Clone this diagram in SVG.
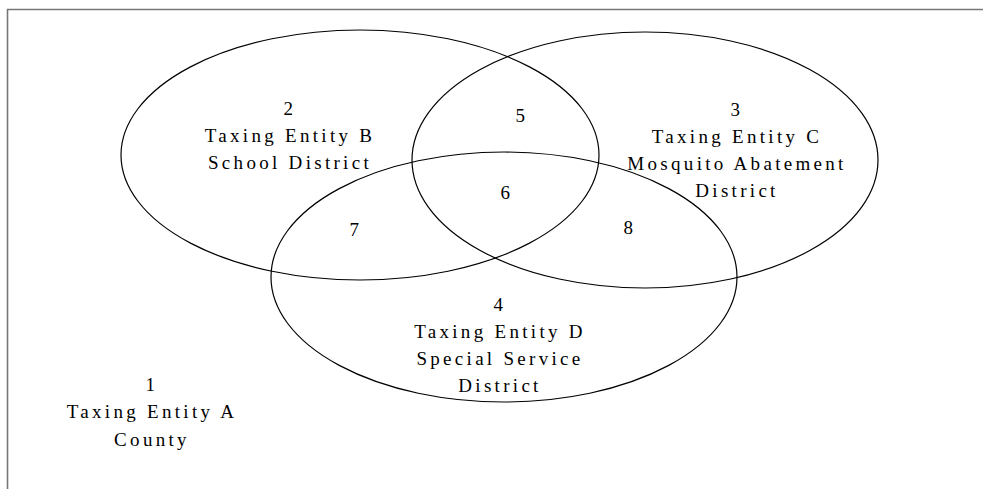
<svg xmlns="http://www.w3.org/2000/svg" width="983" height="489" viewBox="0 0 983 489">
<style>
.e{fill:none;stroke:#000;stroke-width:1.2}
.t{font-family:"Liberation Serif","Times New Roman",serif;font-size:19px;fill:#000;text-anchor:middle;letter-spacing:3.3px}
.f{fill:none;stroke:#777;stroke-width:1.6}
</style>
<rect width="983" height="489" fill="#fff"/>
<g id="frame"><path class="f" d="M983 9.5H7.5V489"/></g>
<g id="ellipseB"><ellipse class="e" cx="360" cy="155" rx="239" ry="125"/></g>
<g id="ellipseC"><ellipse class="e" cx="645" cy="160" rx="233" ry="128"/></g>
<g id="ellipseD"><ellipse class="e" cx="504" cy="277" rx="233" ry="125"/></g>
<g id="region1"><text class="t" x="152" y="391">1</text><text class="t" x="152" y="418">Taxing Entity A</text><text class="t" x="152" y="446">County</text></g>
<g id="region2"><text class="t" x="290" y="115">2</text><text class="t" x="290" y="142">Taxing Entity B</text><text class="t" x="290" y="169">School District</text></g>
<g id="region3"><text class="t" x="737" y="116">3</text><text class="t" x="737" y="143">Taxing Entity C</text><text class="t" x="737" y="170">Mosquito Abatement</text><text class="t" x="737" y="197">District</text></g>
<g id="region4"><text class="t" x="500" y="311">4</text><text class="t" x="500" y="338">Taxing Entity D</text><text class="t" x="500" y="365">Special Service</text><text class="t" x="500" y="392">District</text></g>
<g id="region5"><text class="t" x="522" y="122">5</text></g>
<g id="region6"><text class="t" x="507" y="199">6</text></g>
<g id="region7"><text class="t" x="356" y="236">7</text></g>
<g id="region8"><text class="t" x="630" y="234">8</text></g>
</svg>
